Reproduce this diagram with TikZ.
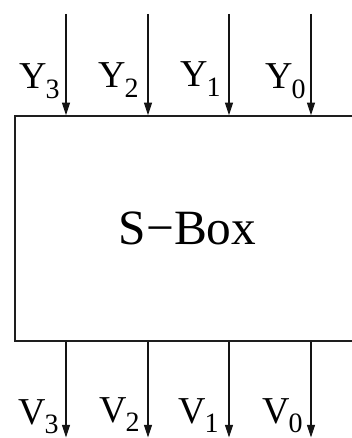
\documentclass[tikz,border=0pt]{standalone}
\usepackage{fontspec}
\setmainfont{Liberation Serif}
\usetikzlibrary{arrows.meta}
\newcommand{\sublbl}[2]{#1\kern-0.03em\raisebox{-0.24em}{\fontsize{21}{21}\selectfont #2}}
\tikzset{
  sigarrow/.style={draw={rgb,255:red,20;green,20;blue,20}, line width=0.8pt, -{Triangle[length=9.5pt,width=6pt]}},
  siglabel/.style={anchor=base east, inner sep=0pt, font=\fontsize{28.5}{30}\selectfont},
}
\begin{document}
\begin{tikzpicture}[x=0.75pt,y=0.75pt,yscale=-1,xscale=1]
\useasboundingbox (0,0) rectangle (352,438);
\clip (0,0) rectangle (352,438);

%Box
\node (sbox) [draw={rgb,255:red,30;green,30;blue,30}, line width=1.1pt, minimum width=345*0.75pt, minimum height=225*0.75pt, inner sep=0pt, font=\fontsize{37}{40}\selectfont] at (187.5,228.5) {S−Box};

%Input coordinates
\coordinate (y3) at (66,14);
\coordinate (y2) at (148,14);
\coordinate (y1) at (229,14);
\coordinate (y0) at (311,14);
%Output coordinates
\coordinate (v3) at (66,437.5);
\coordinate (v2) at (148,437.5);
\coordinate (v1) at (229,437.5);
\coordinate (v0) at (311,437.5);

%Straight Lines
\draw [sigarrow] (y3) -- (y3 |- sbox.north);
\draw [sigarrow] (y2) -- (y2 |- sbox.north);
\draw [sigarrow] (y1) -- (y1 |- sbox.north);
\draw [sigarrow] (y0) -- (y0 |- sbox.north);
%Straight Lines
\draw [sigarrow] (v3 |- sbox.south) -- (v3);
\draw [sigarrow] (v2 |- sbox.south) -- (v2);
\draw [sigarrow] (v1 |- sbox.south) -- (v1);
\draw [sigarrow] (v0 |- sbox.south) -- (v0);

% Text Node
\node (ly3) [siglabel] at (60,89) {\sublbl{Y}{3}};
\node (ly2) [siglabel] at (139,88) {\sublbl{Y}{2}};
\node (ly1) [siglabel] at (221,87) {\sublbl{Y}{1}};
\node (ly0) [siglabel] at (306,89) {\sublbl{Y}{0}};
% Text Node
\node (lv3) [siglabel] at (59,424) {\sublbl{V}{3}};
\node (lv2) [siglabel] at (140,422) {\sublbl{V}{2}};
\node (lv1) [siglabel] at (219,423) {\sublbl{V}{1}};
\node (lv0) [siglabel] at (303,423) {\sublbl{V}{0}};

\end{tikzpicture}
\end{document}
